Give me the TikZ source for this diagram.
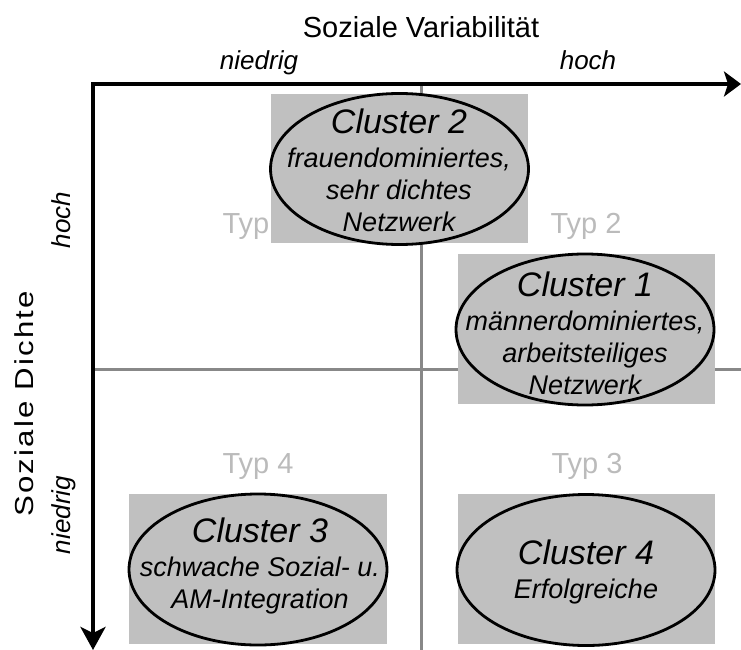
\documentclass[tikz,border=0pt]{standalone}
\usepackage{fontspec}
\setmainfont{Liberation Sans}
\newfontfamily\spacedfont[LetterSpace=7]{Liberation Sans}
\usetikzlibrary{shapes.geometric,arrows.meta}
\definecolor{boxgray}{HTML}{C0C0C0}
\definecolor{linegray}{HTML}{888888}
\definecolor{typgray}{HTML}{BBBBBB}
\newcommand{\ctitle}{\fontsize{34}{32}\selectfont}
\begin{document}
\begin{tikzpicture}[x=1pt,y=-1pt,
  axisline/.style={line width=4pt, line join=miter},
  gridline/.style={line width=3pt, draw=linegray},
  quadbox/.style={fill=boxgray, draw=none},
  cluster/.style={ellipse, draw=black, line width=2.8pt, fill=boxgray,
    minimum width=258pt, minimum height=151pt, inner sep=0pt},
  ctext/.style={align=center, inner sep=0pt, font=\itshape\fontsize{27}{32}\selectfont},
  axlab/.style={font=\itshape\fontsize{26}{28}\selectfont, anchor=base, inner sep=0pt},
  typlab/.style={font=\fontsize{29}{30}\selectfont, text=typgray, anchor=base, inner sep=0pt}]
\useasboundingbox (0,0) rectangle (741,650);
% coordinates
\coordinate (corner) at (93,84);
\coordinate (xend) at (741,84);
\coordinate (yend) at (93,650);
\coordinate (vtop) at (421,84);
\coordinate (vbot) at (421,650);
\coordinate (hleft) at (93,369);
\coordinate (hright) at (741,369);
% grid lines
\draw[gridline] (vtop) -- (vbot);
\draw[gridline] (hleft) -- (hright);
% type labels
\node[typlab] (typ1) at (258,233) {Typ 1};
\node[typlab] (typ2) at (586,233) {Typ 2};
\node[typlab] (typ4) at (258,473) {Typ 4};
\node[typlab] (typ3) at (587,473) {Typ 3};
% boxes
\fill[quadbox] (271,94) rectangle (528,243);
\fill[quadbox] (458,254) rectangle (715,404);
\fill[quadbox] (129,494) rectangle (387,644);
\fill[quadbox] (458,494) rectangle (715,644);
% axes
\draw[axisline, {Stealth[length=17pt,width=25pt,inset=4pt]}-{Stealth[length=23pt,width=25pt,inset=6pt]}] (xend) -- (corner) -- (yend);
% clusters
\node[cluster] (c2) at (399.5,169) {};
\node[cluster] (c1) at (585,329.5) {};
\node[cluster] (c3) at (258,569.5) {};
\node[cluster] (c4) at (586,570) {};
\node[ctext] (c2t) at (399,170) {{\ctitle Cluster 2}\\[2pt]frauendominiertes,\\sehr dichtes\\Netzwerk};
\node[ctext] (c1t) at (585,333) {{\ctitle Cluster 1}\\[2pt]männerdominiertes,\\arbeitsteiliges\\Netzwerk};
\node[ctext] (c3t) at (260,566) {{\ctitle Cluster 3}\\[2pt]schwache Sozial- u.\\AM-Integration};
\node[ctext] (c4t) at (586,572) {{\ctitle Cluster 4}\\[2pt]Erfolgreiche};
% axis titles
\node[font=\fontsize{29}{32}\selectfont, anchor=base, inner sep=0pt] (xtitle) at (421,38) {Soziale Variabilität};
\node[axlab] (xlow) at (259,70) {niedrig};
\node[axlab] (xhigh) at (588,70) {hoch};
\node[anchor=base, inner sep=0pt, rotate=90] (ytitle) at (33,404) {\scalebox{1.2}[1]{\spacedfont\fontsize{26}{30}\selectfont Soziale Dichte}};
\node[axlab, rotate=90] (yhigh) at (70,220) {hoch};
\node[axlab, rotate=90] (ylow) at (70,515) {niedrig};
\end{tikzpicture}
\end{document}
